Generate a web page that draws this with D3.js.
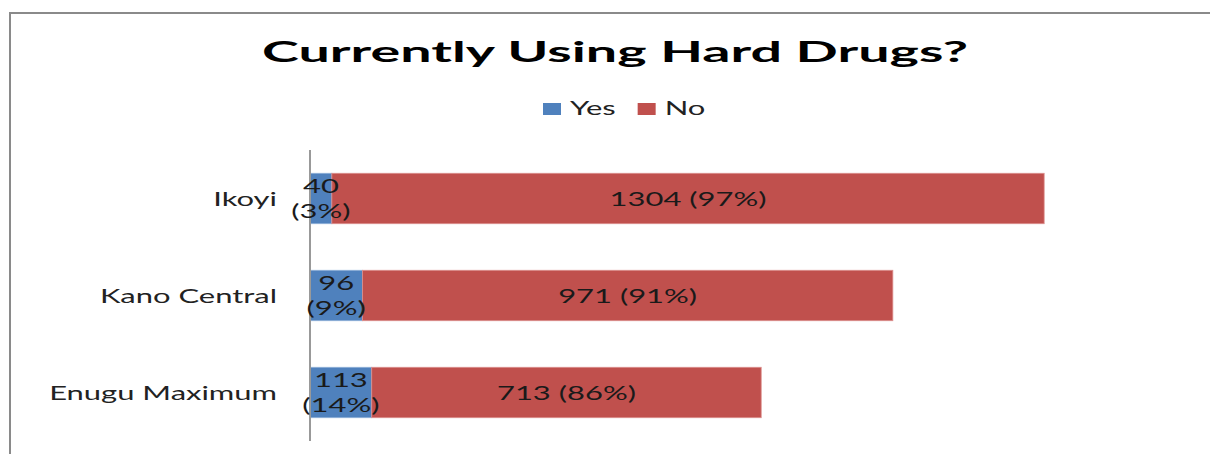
<!DOCTYPE html>
<html>
<head>
<meta charset="utf-8">
<script src="https://cdn.jsdelivr.net/npm/d3@7/dist/d3.min.js"></script>
<style>
  body { margin: 0; background: #fff; }
  svg { display: block; }
</style>
</head>
<body>
<div id="chart"></div>
<script>
// Data
const categories = ['Ikoyi', 'Kano Central', 'Enugu Maximum']
const yesValues = [40, 96, 113]
const noValues = [1304, 971, 713]
const yesPct = ['3%', '9%', '14%']
const noPct = ['97%', '91%', '86%']
const seriesNames = ['Yes', 'No']
const colors = ['#4f81bd', '#c0504d']

function draw() {
  const dims = { width: 1210, height: 454 }
  const labelFont = 'Lato, "Open Sans", sans-serif'
  const fontSize = '20px'

  const svg = d3.select('#chart')
    .append('svg')
    .attr('width', dims.width)
    .attr('height', dims.height)

  // text in the picture is stretched sideways: work out how much
  const probe = svg.append('text')
    .style('font-family', labelFont)
    .style('font-size', fontSize)
    .text(categories[2])
  const K = 228 / probe.node().getComputedTextLength()
  probe.remove()

  // frame (only top and left show)
  svg.append('rect')
    .attr('x', 10).attr('y', 13)
    .attr('width', 1400).attr('height', 600)
    .attr('fill', 'none')
    .attr('stroke', '#8a8a8a')
    .attr('stroke-width', 2)

  // Title
  const title = svg.append('text')
    .attr('text-anchor', 'middle')
    .style('font-family', labelFont)
    .style('font-weight', 'bold')
    .style('font-size', '29px')
    .attr('fill', '#000')
    .text('Currently Using Hard Drugs?')
  const tw = title.node().getComputedTextLength()
  title.attr('transform', `translate(615, 62) scale(${706 / tw}, 1)`)

  // Scales
  const x = d3.scaleLinear()
    .domain([0, 1600])
    .range([310, 1184])

  const y = d3.scaleBand()
    .domain(categories)
    .range([150, 441])
    .paddingInner(0.48)
    .paddingOuter(0.24)

  const rows = categories.map((c, i) => ({
    cat: c, yes: yesValues[i], no: noValues[i], yp: yesPct[i], np: noPct[i]
  }))

  // Bars
  const barG = svg.append('g')
  barG.selectAll('rect.yes')
    .data(rows)
    .join('rect')
    .attr('class', 'yes')
    .attr('x', x(0))
    .attr('y', d => y(d.cat))
    .attr('width', d => x(d.yes) - x(0))
    .attr('height', y.bandwidth())
    .attr('fill', colors[0])
    .attr('stroke', '#8fb0d8')
    .attr('stroke-width', 0.8)

  barG.selectAll('rect.no')
    .data(rows)
    .join('rect')
    .attr('class', 'no')
    .attr('x', d => x(d.yes))
    .attr('y', d => y(d.cat))
    .attr('width', d => x(d.yes + d.no) - x(d.yes))
    .attr('height', y.bandwidth())
    .attr('fill', colors[1])
    .attr('stroke', '#dc8f8d')
    .attr('stroke-width', 0.8)

  // Axis line
  svg.append('line')
    .attr('x1', x(0)).attr('x2', x(0))
    .attr('y1', y.range()[0]).attr('y2', y.range()[1])
    .attr('stroke', '#999')
    .attr('stroke-width', 2)

  // Category labels
  svg.append('g')
    .selectAll('text')
    .data(rows)
    .join('text')
    .attr('text-anchor', 'end')
    .attr('transform', d => `translate(277, ${y(d.cat) + y.bandwidth() / 2 + 7}) scale(${K}, 1)`)
    .style('font-family', labelFont)
    .style('font-size', fontSize)
    .attr('fill', '#222')
    .text(d => d.cat)

  // Yes labels (two lines)
  const yesLab = svg.append('g')
    .selectAll('text')
    .data(rows)
    .join('text')
    .attr('text-anchor', 'middle')
    .attr('transform', d => `translate(${(x(0) + x(d.yes)) / 2}, ${y(d.cat) + y.bandwidth() / 2}) scale(${K}, 1)`)
    .style('font-family', labelFont)
    .style('font-size', fontSize)
    .attr('fill', '#1a1a1a')
  yesLab.append('tspan').attr('x', 0).attr('y', -6).text(d => d.yes)
  yesLab.append('tspan').attr('x', 0).attr('y', 19).text(d => `(${d.yp})`)

  // No labels
  svg.append('g')
    .selectAll('text')
    .data(rows)
    .join('text')
    .attr('text-anchor', 'middle')
    .attr('transform', d => `translate(${(x(d.yes) + x(d.yes + d.no)) / 2}, ${y(d.cat) + y.bandwidth() / 2 + 7}) scale(${K}, 1)`)
    .style('font-family', labelFont)
    .style('font-size', fontSize)
    .attr('fill', '#1a1a1a')
    .text(d => `${d.no} (${d.np})`)

  // Legend
  const legend = svg.append('g')
  let lx = 543
  seriesNames.forEach((name, i) => {
    legend.append('rect')
      .attr('x', lx).attr('y', 103)
      .attr('width', 18).attr('height', 12)
      .attr('fill', colors[i])
    const t = legend.append('text')
      .attr('transform', `translate(${lx + 27}, 115) scale(${K}, 1)`)
      .style('font-family', labelFont)
      .style('font-size', fontSize)
      .attr('fill', '#222')
      .text(name)
    lx += 27 + t.node().getComputedTextLength() * K + 22
  })
}

draw()
</script>
</body>
</html>
